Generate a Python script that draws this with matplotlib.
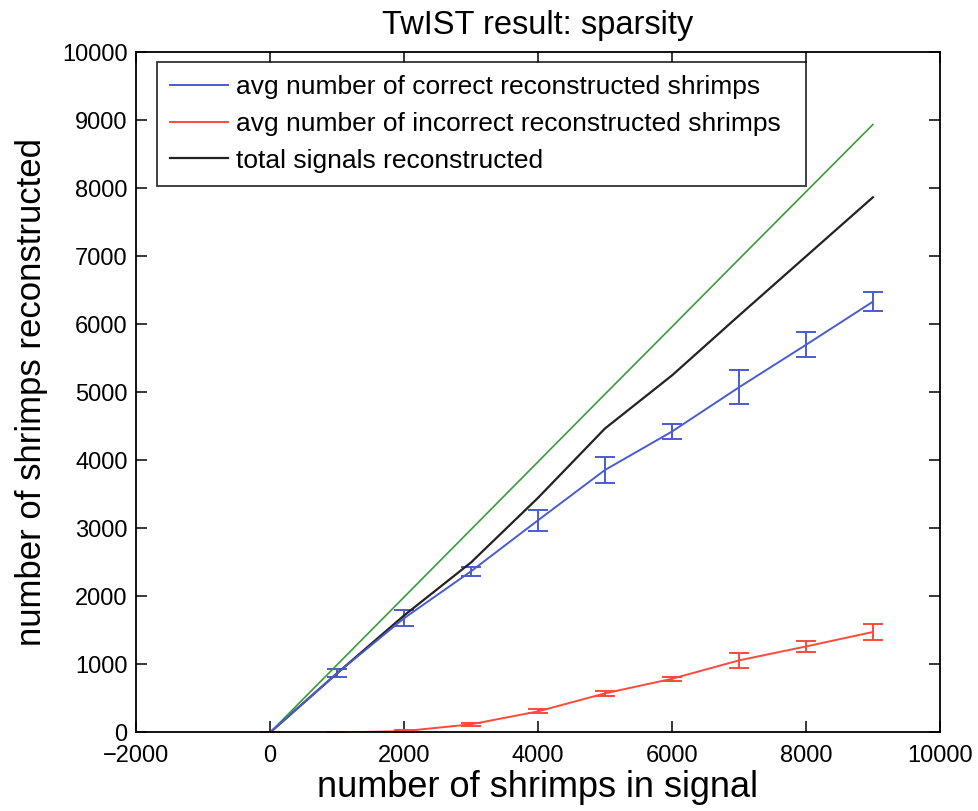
import matplotlib
matplotlib.use("Agg")
from matplotlib import pyplot as plt
from matplotlib.lines import Line2D

plt.rcParams['font.family'] = ['Liberation Sans', 'DejaVu Sans']

x = [0, 1000, 2000, 3000, 4000, 5000, 6000, 7000, 8000, 9000]
correct = [0, 870, 1680, 2370, 3120, 3860, 4425, 5075, 5700, 6335]
correct_err = [0, 60, 120, 70, 150, 190, 115, 250, 185, 140]
incorrect = [0, 0, 20, 120, 310, 575, 790, 1060, 1265, 1478]
incorrect_err = [0, 0, 15, 20, 30, 40, 30, 115, 85, 115]
total = [0, 870, 1720, 2500, 3450, 4470, 5250, 6130, 7000, 7870]
ideal = [0, 995, 1990, 2985, 3980, 4975, 5965, 6960, 7950, 8940]

blue = '#4a5bd0'
red = '#ff4a3a'
black = '#222222'

fig = plt.figure(figsize=(9.79, 8.11), dpi=100)
ax = fig.add_axes([0.139, 0.0968, 0.821, 0.8385])

ax.errorbar(x, correct, yerr=correct_err, color=blue, lw=1.4, capsize=7, capthick=1.4)
ax.errorbar(x, incorrect, yerr=incorrect_err, color=red, lw=1.4, capsize=7, capthick=1.4)
ax.plot(x, total, color=black, lw=1.6)
ax.plot(x, ideal, color='#3c9a3c', lw=1.2)

ax.set_xlim(-2000, 10000)
ax.set_ylim(0, 10000)
ax.set_xticks(range(-2000, 10001, 2000))
ax.set_yticks(range(0, 10001, 1000))
ax.set_xticklabels(['\u22122000', '0', '2000', '4000', '6000', '8000', '10000'])
ax.tick_params(direction='in', top=True, right=True, labelsize=17, length=8, width=1.1)
ax.tick_params(axis='x', pad=9)
ax.tick_params(axis='y', pad=6)
for s in ax.spines.values():
    s.set_linewidth(1.3)

ax.set_title("TwIST result: sparsity", fontsize=23.5, pad=13)
ax.set_xlabel("number of shrimps in signal", fontsize=26, labelpad=2)
ax.set_ylabel("number of shrimps reconstructed", fontsize=25, labelpad=10)

handles = [Line2D([], [], color=blue, lw=1.4),
           Line2D([], [], color=red, lw=1.4),
           Line2D([], [], color=black, lw=1.6)]
labels = ['avg number of correct reconstructed shrimps',
          'avg number of incorrect reconstructed shrimps',
          'total signals reconstructed']
leg = ax.legend(handles, labels, loc='upper left', fontsize=19, fancybox=False,
                edgecolor='black', handlelength=2.2, handletextpad=0.3,
                borderpad=0.5, labelspacing=0.48, borderaxespad=0,
                bbox_to_anchor=(0.026, 0.5, 0.807, 0.486), mode='expand')
leg.get_frame().set_linewidth(1.3)

fig.savefig("out.png", dpi=100)
